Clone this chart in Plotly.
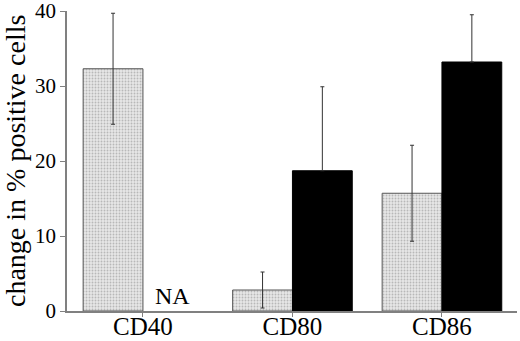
import plotly.graph_objects as go

categories = ["CD40", "CD80", "CD86"]
gray_values = [32.3, 2.8, 15.7]
gray_errors = [7.4, 2.4, 6.4]
black_values = [None, 18.7, 33.2]
black_errors_up = [None, 11.2, 6.3]
black_errors_down = [None, 0, 0]
y_ticks = [0, 10, 20, 30, 40]
na_label = "NA"
y_title = "change in % positive cells"

FONT = "Liberation Serif, Times New Roman, serif"
W, H = 520, 341
L, R, T, B = 67, 3, 11, 30

fig = go.Figure()
fig.add_trace(go.Bar(
    x=categories, y=gray_values,
    marker=dict(color="#d9d9d9",
                line=dict(color="#555555", width=1),
                pattern=dict(shape=".", size=3, solidity=0.3,
                             fgcolor="#8a8a8a", bgcolor="#e6e6e6")),
    error_y=dict(type="data", array=gray_errors, visible=True,
                 color="#333333", thickness=1, width=2),
    showlegend=False,
))
fig.add_trace(go.Bar(
    x=categories, y=black_values,
    marker=dict(color="#000000", line=dict(color="#000000", width=1)),
    error_y=dict(type="data", symmetric=False, array=black_errors_up,
                 arrayminus=black_errors_down, visible=True,
                 color="#333333", thickness=1, width=2),
    showlegend=False,
))

fig.add_annotation(x=0.2, y=0, xref="x", yref="y", text=na_label,
                   showarrow=False, yanchor="bottom", yshift=0,
                   font=dict(family=FONT, size=24, color="#000000"))

# y-axis title as rotated text
fig.add_annotation(x=(15 - L) / (W - L - R), y=0.5, xref="paper", yref="paper",
                   text=y_title, textangle=-90, showarrow=False,
                   xanchor="center", yanchor="middle", borderpad=0,
                   font=dict(family=FONT, size=28, color="#000000"))

fig.update_layout(
    width=W, height=H,
    margin=dict(l=L, r=R, t=T, b=B, autoexpand=False),
    paper_bgcolor="white", plot_bgcolor="white",
    barmode="group", bargap=0.2, bargroupgap=0,
    font=dict(family=FONT, color="#000000"),
)
fig.update_xaxes(
    type="category", range=[-0.508, 2.502], automargin=False,
    showline=True, linecolor="#808080", linewidth=1.5,
    ticks="outside", ticklen=4, tickcolor="#808080",
    tickfont=dict(family=FONT, size=25, color="#000000"),
    ticklabelstandoff=-12, ticklabeloverflow="allow",
    showgrid=False, zeroline=False,
)
fig.update_yaxes(
    range=[0, 40], tickvals=y_ticks, automargin=False,
    showline=True, linecolor="#808080", linewidth=1.5,
    ticks="outside", ticklen=5, tickcolor="#808080",
    tickfont=dict(family=FONT, size=21, color="#000000"),
    ticklabeloverflow="allow",
    showgrid=False, zeroline=False,
)

fig.write_html("out.html", config={"displayModeBar": False},
               post_script="document.body.style.margin='0';document.body.style.overflow='hidden';")
